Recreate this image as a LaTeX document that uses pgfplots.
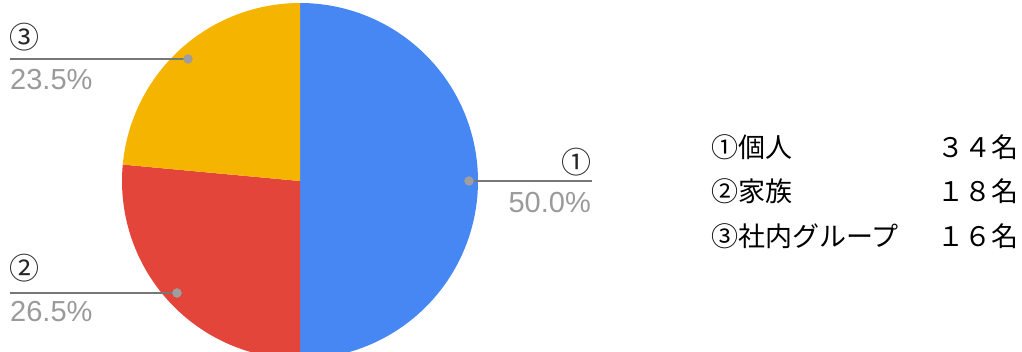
\documentclass[border=0pt]{standalone}
\usepackage{pgfplots}
\pgfplotsset{compat=1.18}
\usepackage{fontspec}
\setmainfont{Liberation Sans}
\newfontfamily\cjk{Noto Sans CJK JP}
\definecolor{pieblue}{HTML}{4687F4}
\definecolor{piered}{HTML}{E4453A}
\definecolor{pieyellow}{HTML}{F5B400}
\definecolor{leadgray}{HTML}{777777}
\definecolor{dotgray}{HTML}{9E9E9E}
\definecolor{pctgray}{HTML}{9A9A9A}
% counts: individual, family, in-house group
\def\nA{34}\def\nB{18}\def\nC{16}
\pgfmathsetmacro{\tot}{\nA+\nB+\nC}
\pgfmathsetmacro{\aA}{360*\nA/\tot}
\pgfmathsetmacro{\aB}{360*\nB/\tot}
\pgfmathsetmacro{\aC}{360*\nC/\tot}
\pgfmathsetmacro{\sA}{90-\aA}      % blue: from 90 clockwise
\pgfmathsetmacro{\sB}{\sA-\aB}     % red
\pgfmathsetmacro{\sC}{\sB-\aC}     % yellow
\def\cx{300}\def\cy{170}\def\rr{178}
\begin{document}
\begin{tikzpicture}
\begin{axis}[hide axis, scale only axis, width=1022pt, height=351pt,
  xmin=0, xmax=1022, ymin=0, ymax=351, clip=true, clip bounding box=upper bound]
\path (rel axis cs:0,0) rectangle (rel axis cs:1,1);
\addplot[fill=pieblue, draw=none, domain=\sA:90, samples=120]
  ({\cx+\rr*cos(x)}, {\cy+\rr*sin(x)}) -- (axis cs:\cx,\cy) -- cycle;
\addplot[fill=piered, draw=none, domain=\sB:\sA, samples=80]
  ({\cx+\rr*cos(x)}, {\cy+\rr*sin(x)}) -- (axis cs:\cx,\cy) -- cycle;
\addplot[fill=pieyellow, draw=none, domain=\sC:\sB, samples=80]
  ({\cx+\rr*cos(x)}, {\cy+\rr*sin(x)}) -- (axis cs:\cx,\cy) -- cycle;
% leader lines
\addplot[draw=leadgray, line width=2.5pt] coordinates {(469,170) (592,170)};
\addplot[draw=leadgray, line width=2.5pt] coordinates {(188,292) (10,292)};
\addplot[draw=leadgray, line width=2.5pt] coordinates {(177,58) (10,58)};
\addplot[only marks, mark=*, mark size=4.5pt, color=dotgray] coordinates {(469,170) (188,292) (177,58)};
% labels
\node[anchor=east, inner sep=0pt, font=\cjk\fontsize{30}{30}\selectfont, text=black!85] at (axis cs:592,189) {①};
\node[anchor=east, inner sep=0pt, font=\fontsize{29}{29}\selectfont, text=pctgray] at (axis cs:591,148) {50.0\%};
\node[anchor=west, inner sep=0pt, font=\cjk\fontsize{30}{30}\selectfont, text=black!85] at (axis cs:9,314) {③};
\node[anchor=west, inner sep=0pt, font=\fontsize{29}{29}\selectfont, text=pctgray] at (axis cs:10,271) {23.5\%};
\node[anchor=west, inner sep=0pt, font=\cjk\fontsize{30}{30}\selectfont, text=black!85] at (axis cs:9,83) {②};
\node[anchor=west, inner sep=0pt, font=\fontsize{29}{29}\selectfont, text=pctgray] at (axis cs:10,39) {26.5\%};
% legend table
\node[anchor=west, inner sep=0pt, font=\cjk\fontsize{27}{27}\selectfont] at (axis cs:711,204) {①個人};
\node[anchor=west, inner sep=0pt, font=\cjk\fontsize{27}{27}\selectfont] at (axis cs:711,160) {②家族};
\node[anchor=west, inner sep=0pt, font=\cjk\fontsize{27}{27}\selectfont] at (axis cs:711,115) {③社内グループ};
\node[anchor=east, inner sep=0pt, font=\cjk\fontsize{27}{27}\selectfont] at (axis cs:1019,204) {３４名};
\node[anchor=east, inner sep=0pt, font=\cjk\fontsize{27}{27}\selectfont] at (axis cs:1019,160) {１８名};
\node[anchor=east, inner sep=0pt, font=\cjk\fontsize{27}{27}\selectfont] at (axis cs:1019,115) {１６名};
\end{axis}
\end{tikzpicture}
\end{document}
